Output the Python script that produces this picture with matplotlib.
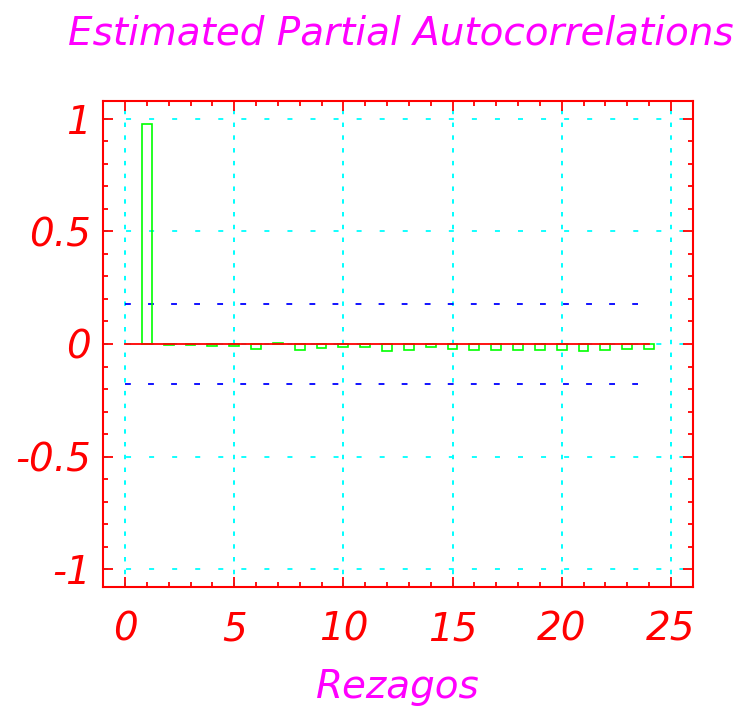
import numpy as np
import matplotlib
matplotlib.use("Agg")
import matplotlib.pyplot as plt
from matplotlib.ticker import MultipleLocator

plt.rcParams['font.family'] = ['DejaVu Sans']
plt.rcParams['lines.scale_dashes'] = False

# partial autocorrelations by lag
lags = np.arange(1, 25)
pacf = [0.975, -0.003, -0.003, -0.007, -0.009, -0.024, 0.004, -0.028, -0.019, -0.012,
        -0.015, -0.030, -0.028, -0.015, -0.024, -0.027, -0.027, -0.028, -0.027, -0.028,
        -0.030, -0.027, -0.022, -0.024]
conf = 0.176   # approx 2/sqrt(n) band
conf_end = 23.5

xticks = [0, 5, 10, 15, 20, 25]
yticks = [-1, -0.5, 0, 0.5, 1]
ytick_labels = ['-1', '-0.5', '0', '0.5', '1']

red = '#ff0000'
mag = '#ff00ff'
fs = 28

fig = plt.figure(figsize=(7.36, 7.07), dpi=100)
ax = fig.add_axes([0.1403, 0.1693, 0.8008, 0.6883])

ax.set_xlim(-1, 26)
ax.set_ylim(-1.08, 1.08)

# dotted cyan grid
for xv in xticks:
    ax.axvline(xv, color='#00ffff', lw=1.4, dashes=(3.2, 6.0), zorder=1)
for yv in yticks:
    ax.axhline(yv, color='#00ffff', lw=1.3, dashes=(3.6, 13.0), zorder=1)

# confidence band
for c in (conf, -conf):
    ax.plot([0, conf_end], [c, c], color='#0000ff', lw=1.3, dashes=(4.2, 12.4), zorder=2)

ax.bar(lags, pacf, width=0.45, fill=False, edgecolor='#00ff00', lw=1.2, zorder=3)
ax.plot([0, lags[-1]], [0, 0], color=red, lw=1.3, zorder=4)

for s in ax.spines.values():
    s.set_color(red)
    s.set_linewidth(1.5)

ax.set_xticks(xticks)
ax.set_yticks(yticks)
ax.set_yticklabels(ytick_labels)
ax.xaxis.set_minor_locator(MultipleLocator(1))
ax.yaxis.set_minor_locator(MultipleLocator(0.1))
ax.tick_params(which='both', direction='in', color=red, width=1.3,
               top=True, right=True, labelcolor=red, labelsize=fs)
ax.tick_params(which='major', length=7)
ax.tick_params(which='minor', length=3.5)
ax.tick_params(axis='x', pad=17)
ax.tick_params(axis='y', pad=9)
for lab in ax.get_xticklabels() + ax.get_yticklabels():
    lab.set_fontstyle('italic')

ax.set_xlabel('Rezagos', color=mag, fontsize=fs, fontstyle='italic', labelpad=14)
fig.text(0.544, 0.952, 'Estimated Partial Autocorrelations', color=mag,
         fontsize=fs, fontstyle='italic', ha='center', va='center')

fig.savefig('out.png', dpi=100)
